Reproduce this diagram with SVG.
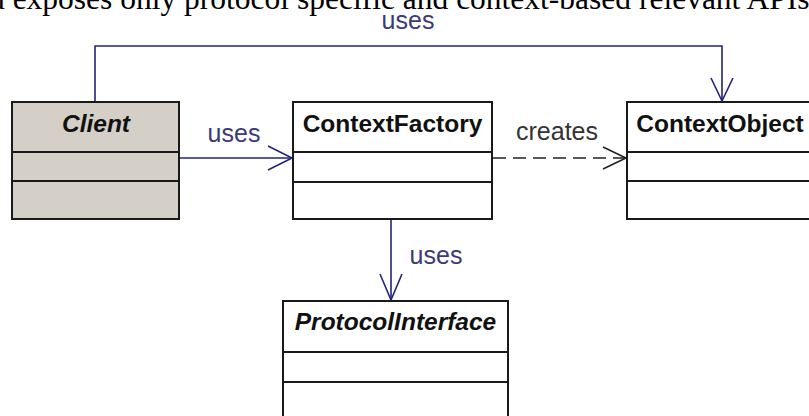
<svg xmlns="http://www.w3.org/2000/svg" width="809" height="416" viewBox="0 0 809 416">
<style>
.box{fill:#ffffff;stroke:#1a1a1a;stroke-width:2}
.gray{fill:#d4d0c8}
.div{stroke:#1a1a1a;stroke-width:2}
.title{font-family:"Liberation Sans",Arial,sans-serif;font-weight:bold;font-size:24.5px;fill:#111;text-anchor:middle}
.ital{font-style:italic}
.lbl{font-family:"Liberation Sans",Arial,sans-serif;font-size:25px;text-anchor:middle}
.uses{fill:#3a3a78}
.creates{fill:#333333}
.conn{fill:none;stroke:#23237a;stroke-width:1.6}
.dash{fill:none;stroke:#222222;stroke-width:1.6;stroke-dasharray:13 7}
.head{fill:none;stroke-width:1.6}
.caption{font-family:"Liberation Serif","Times New Roman",serif;font-size:31.5px;fill:#000}
</style>
<rect width="809" height="416" fill="#ffffff"/>
<text class="caption" x="-11" y="9">d exposes only protocol specific and context-based relevant APIs</text>

<g id="connectors">
  <!-- Client to ContextObject (top) -->
  <polyline class="conn" points="95,102 95,46 722,46 722,101"/>
  <polyline class="conn head" stroke="#23237a" points="711,78 722,101 733,78"/>
  <text class="lbl uses" x="408" y="29">uses</text>
  <!-- Client to ContextFactory -->
  <line class="conn" x1="179" y1="158" x2="292" y2="158"/>
  <polyline class="conn head" stroke="#23237a" points="268,146 292,158 268,170"/>
  <text class="lbl uses" x="234" y="142">uses</text>
  <!-- ContextFactory to ContextObject -->
  <line class="dash" x1="493" y1="158" x2="626" y2="158"/>
  <polyline class="head" stroke="#222222" points="603,147 626,158 603,169"/>
  <text class="lbl creates" x="557" y="140">creates</text>
  <!-- ContextFactory to ProtocolInterface -->
  <line class="conn" x1="391" y1="219" x2="391" y2="300"/>
  <polyline class="conn head" stroke="#23237a" points="380,274 391,300 402,274"/>
  <text class="lbl uses" x="436" y="264">uses</text>
</g>

<g id="client">
  <rect class="box gray" x="12" y="102" width="167" height="117"/>
  <line class="div" x1="12" y1="152" x2="179" y2="152"/>
  <line class="div" x1="12" y1="181" x2="179" y2="181"/>
  <text class="title ital" x="96" y="132">Client</text>
</g>

<g id="contextFactory">
  <rect class="box" x="293" y="102" width="199" height="117"/>
  <line class="div" x1="293" y1="152" x2="492" y2="152"/>
  <line class="div" x1="293" y1="182" x2="492" y2="182"/>
  <text class="title" x="392.5" y="132">ContextFactory</text>
</g>

<g id="contextObject">
  <rect class="box" x="627" y="102" width="187" height="117"/>
  <line class="div" x1="627" y1="152" x2="814" y2="152"/>
  <line class="div" x1="627" y1="181" x2="814" y2="181"/>
  <text class="title" x="720" y="132">ContextObject</text>
</g>

<g id="protocolInterface">
  <rect class="box" x="283" y="301" width="225" height="130"/>
  <line class="div" x1="283" y1="352" x2="508" y2="352"/>
  <line class="div" x1="283" y1="382" x2="508" y2="382"/>
  <text class="title ital" x="395.5" y="330">ProtocolInterface</text>
</g>
</svg>
